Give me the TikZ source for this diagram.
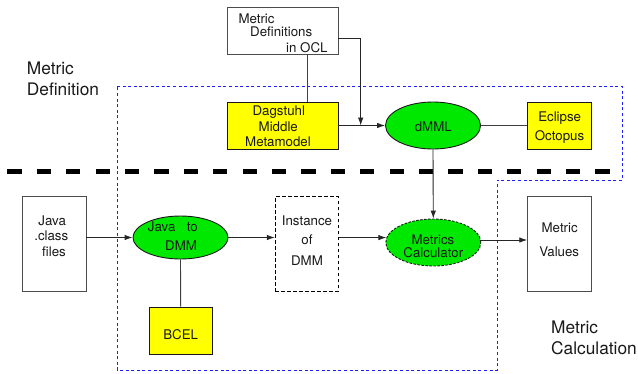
\documentclass[tikz,border=0pt]{standalone}
\usepackage{fontspec}
\setmainfont{TeX Gyre Heros}
\usetikzlibrary{arrows.meta,shapes.geometric}
\definecolor{yfill}{HTML}{FFFF00}
\definecolor{gfill}{HTML}{00E800}
\definecolor{bline}{HTML}{1E1EFF}
\begin{document}
\begin{tikzpicture}[x=1pt,y=-1pt,
  wbox/.style={draw=black!70, line width=0.9pt, rectangle, inner sep=0pt, fill=white},
  ybox/.style={draw=black!90, line width=0.9pt, rectangle, inner sep=0pt, fill=yfill},
  gell/.style={ellipse, draw=black!90, fill=gfill, line width=0.9pt, inner sep=0pt},
  txt/.style={font=\fontsize{13.3}{15.5}\selectfont, inner sep=0pt, text=black!90},
  big/.style={font=\fontsize{17.3}{21}\selectfont, inner sep=0pt, text=black!90},
  arr/.style={-{Latex[length=8pt,width=5.5pt]}, line width=0.9pt, draw=black!85},
  conn/.style={line width=0.9pt, draw=black!75},
  region/.style={draw=bline, line width=0.9pt, dash pattern=on 3pt off 2.6pt},
  divider/.style={draw=black, line width=5pt, dash pattern=on 14.3pt off 15.1pt},
]
\useasboundingbox (0,0) rectangle (638,373);

% regions
\draw[region] (117,86) -- (622,86) -- (622,180) -- (497,180) -- (497,370) -- (117,370) -- cycle;
\draw[divider] (7.3,171.7) -- (612,171.7);

% nodes
\node[wbox, minimum width=111pt, minimum height=47pt] (mdef) at (282.5,30.5) {};
\node[ybox, minimum width=111pt, minimum height=47pt] (dag) at (282.5,125.5) {};
\node[gell, minimum width=95pt, minimum height=47pt] (dmml) at (433,125.5) {};
\node[ybox, minimum width=64pt, minimum height=47pt] (ecl) at (559.7,125.5) {};
\node[wbox, minimum width=63.3pt, minimum height=94.6pt] (jcls) at (54.3,244) {};
\node[gell, minimum width=95pt, minimum height=43pt] (j2d) at (180.5,237.5) {};
\node[ybox, minimum width=63.3pt, minimum height=47.3pt] (bcel) at (180.7,330.7) {};
\node[wbox, draw=black, dash pattern=on 3.5pt off 2.5pt, minimum width=63pt, minimum height=94.6pt] (inst) at (306.8,244) {};
\node[gell, dash pattern=on 2.5pt off 1.5pt, minimum width=95pt, minimum height=47pt] (calc) at (433.3,242.5) {};
\node[wbox, minimum width=64pt, minimum height=94.6pt] (mval) at (559.7,244) {};

% texts
\node[txt, anchor=base west] (t1) at (238.3,23.3) {Metric};
\node[txt, anchor=base west] (t2) at (250,36.5) {Definitions};
\node[txt, anchor=base east] (t3) at (327.7,52.5) {in OCL};
\node[txt, anchor=base] (t4) at (278.8,115) {Dagstuhl};
\node[txt, anchor=base] (t5) at (278.3,131) {Middle};
\node[txt, anchor=base] (t6) at (278,146.5) {Metamodel};
\node[txt, anchor=base] (t7) at (433.3,131.7) {dMML};
\node[txt, anchor=base] (t8) at (559.7,121) {Eclipse};
\node[txt, anchor=base] (t9) at (559.5,140) {Octopus};
\node[txt, anchor=base] (t10) at (52.2,225) {Java};
\node[txt, anchor=base] (t11) at (51.3,240.7) {.class};
\node[txt, anchor=base] (t12) at (54,256) {files};
\node[txt, anchor=base west] (t13) at (147.7,231.7) {Java\hspace{11.4pt}to};
\node[txt, anchor=base west] (t14) at (165,250) {DMM};
\node[txt, anchor=base] (t15) at (180.7,339.3) {BCEL};
\node[txt, anchor=base] (t16) at (307,225.3) {Instance};
\node[txt, anchor=base] (t17) at (307,244) {of};
\node[txt, anchor=base] (t18) at (307,265) {DMM};
\node[txt, anchor=base] (t19) at (433,244.3) {Metrics};
\node[txt, anchor=base] (t20) at (433.3,257.2) {Calculator};
\node[txt, anchor=base] (t21) at (559.7,232.3) {Metric};
\node[txt, anchor=base] (t22) at (559.2,256.7) {Values};
\node[big, anchor=base west] (l1) at (26.7,74) {Metric};
\node[big, anchor=base west] (l2) at (26.7,95.7) {Definition};
\node[big, anchor=base west] (l3) at (551,333.3) {Metric};
\node[big, anchor=base west] (l4) at (551,354.3) {Calculation};

% connectors
\coordinate (join) at (360.7,125.5);
\draw[conn] ([xshift=24.5pt]mdef.south) -- ([xshift=24.5pt]dag.north);
\draw[arr] ([yshift=-7.5pt]mdef.east) -| (join);
\draw[arr] (dag.east) -- (dmml.west);
\draw[conn] (dmml.east) -- (ecl.west);
\draw[arr] (dmml.south) -- (calc.north);
\draw[arr] (jcls.east |- j2d.west) -- (j2d.west);
\draw[arr] (j2d.east) -- (inst.west |- j2d.east);
\draw[conn] (j2d.south) -- (bcel.north);
\draw[arr] (inst.east |- calc.174) -- (calc.174);
\draw[arr] (calc.3) -- (mval.west |- calc.3);
\end{tikzpicture}
\end{document}
